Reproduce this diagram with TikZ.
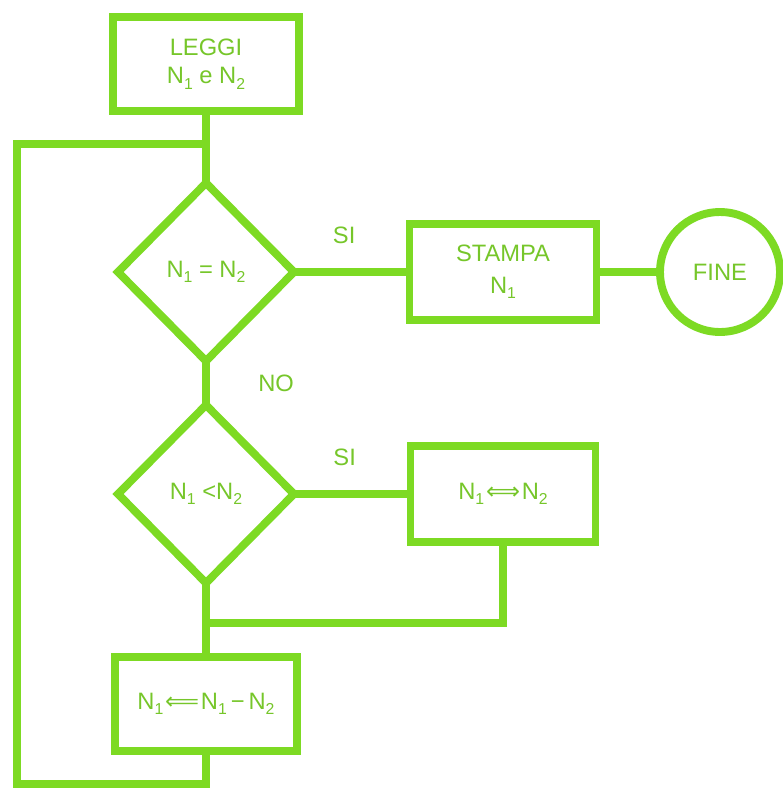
\documentclass[tikz,border=0pt]{standalone}
\usepackage{fontspec}
\setmainfont{Liberation Sans}
\newfontfamily\arrowfont{DejaVu Sans}
\usetikzlibrary{shapes.geometric,positioning}

\definecolor{limeline}{RGB}{125,218,35}
\definecolor{limetext}{RGB}{118,198,42}
\newcommand{\Nsub}[1]{N\raisebox{-0.45ex}{\fontsize{9}{9}\selectfont #1}}

\begin{document}
\begin{tikzpicture}[
    x=0.02cm, y=-0.02cm,
    box/.style={rectangle, draw=limeline, line width=4.5pt, text=limetext, inner sep=0pt, align=center, font=\fontsize{13.5}{16}\selectfont},
    decision/.style={diamond, draw=limeline, line width=4.5pt, text=limetext, inner sep=0pt, outer sep=0pt, aspect=1, minimum width=3.52cm, minimum height=3.56cm, font=\fontsize{13.5}{16}\selectfont},
    term/.style={circle, draw=limeline, line width=4.5pt, text=limetext, inner sep=0pt, minimum size=2.4cm, font=\fontsize{13.5}{16}\selectfont},
    lbl/.style={text=limetext, font=\fontsize{13.5}{16}\selectfont},
    link/.style={draw=limeline, line width=4.5pt}
]
\useasboundingbox (0,0) rectangle (783,788);

\node[box, minimum width=3.72cm, minimum height=1.88cm] (leggi) at (206,64) {LEGGI\\\Nsub{1} e \Nsub{2}};
\node[decision] (equal) at (206,272) {\Nsub{1} = \Nsub{2}};
\node[box, minimum width=3.74cm, minimum height=1.92cm] (stampa) at (503,272) {STAMPA\\[2pt]\Nsub{1}};
\node[term] (fine) at (720,272) {FINE};
\node[decision] (less) at (206,494) {\Nsub{1} <\Nsub{2}};
\node[box, minimum width=3.7cm, minimum height=1.92cm] (swap) at (503,494) {\Nsub{1}\kern1pt{\arrowfont ⟺}\kern1pt\Nsub{2}};
\node[box, minimum width=3.64cm, minimum height=1.88cm] (diff) at (206,704) {\Nsub{1}\kern1pt{\arrowfont ⟸}\kern1pt\Nsub{1}\,−\,\Nsub{2}};

% loop back to the first test
\coordinate (loopbot) at (17,784);
\coordinate (looptop) at (206,144);
\coordinate (merge) at (206,623);

\draw[link] (leggi.south) -- (equal.north);
\draw[link] (equal.east) -- node[lbl, above=0.37cm, pos=0.45] {SI} (stampa.west);
\draw[link] (stampa.east) -- (fine.west);
\draw[link] (equal.south) -- node[lbl, right=0.85cm] {NO} (less.north);
\draw[link] (less.east) -- node[lbl, above=0.37cm, pos=0.45] {SI} (swap.west);
\draw[link] (swap.south) |- (merge);
\draw[link] (less.south) -- (diff.north);
\draw[link] (diff.south) |- (loopbot) |- (looptop);

\end{tikzpicture}
\end{document}
